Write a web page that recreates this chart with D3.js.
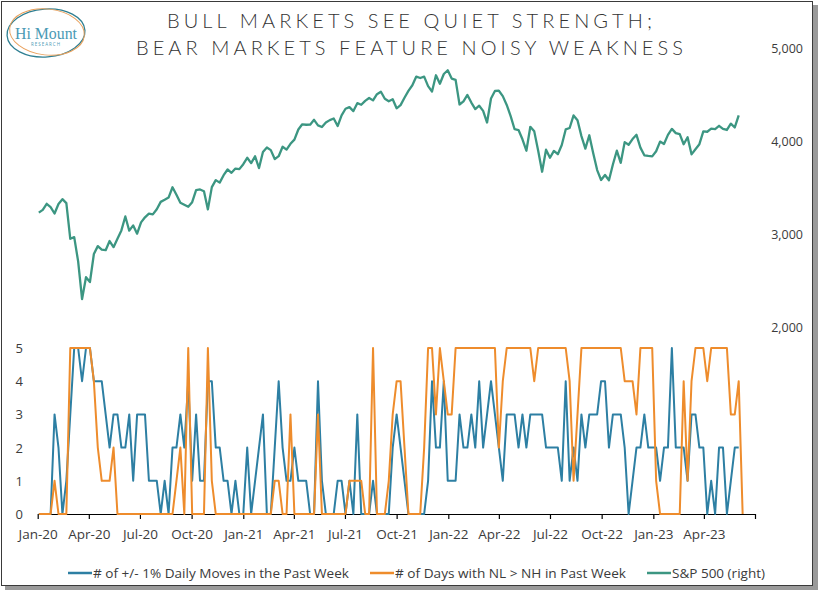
<!DOCTYPE html>
<html><head><meta charset="utf-8">
<script src="https://cdn.jsdelivr.net/npm/d3@7"></script>
<style>body{margin:0;background:#fff;} svg{display:block}</style>
</head><body><svg id="c" width="822" height="598"></svg>
<script>
// ---- DATA ----
const firstWeek = "2020-01-03"; // weekly (Friday) observations
const quarterLabels = ["Jan-20","Apr-20","Jul-20","Oct-20","Jan-21","Apr-21","Jul-21","Oct-21","Jan-22","Apr-22","Jul-22","Oct-22","Jan-23","Apr-23"];
const rightTicks = [2000, 3000, 4000, 5000];
const leftTicks = [0, 1, 2, 3, 4, 5];
const seriesNames = ["# of +/- 1% Daily Moves in the Past Week", "# of Days with NL > NH in Past Week", "S&P 500 (right)"];

const spx = [
3235,3265,3330,3295,3226,3328,3380,3338,2954,2972,
2711,2305,2541,2489,2790,2875,2837,2831,2930,2864,
2955,3044,3194,3041,3098,3009,3130,3185,3225,3216,
3271,3351,3373,3397,3508,3427,3341,3319,3298,3348,
3477,3484,3465,3270,3509,3585,3558,3638,3699,3663,
3709,3703,3756,3825,3768,3841,3714,3887,3935,3907,
3811,3842,3943,3913,3975,4020,4129,4185,4180,4181,
4233,4174,4156,4204,4230,4247,4166,4281,4352,4370,
4327,4412,4395,4437,4468,4442,4509,4535,4459,4433,
4455,4357,4391,4471,4545,4605,4698,4683,4698,4595,
4538,4712,4621,4726,4766,4677,4663,4398,4432,4501,
4419,4349,4385,4329,4204,4463,4543,4546,4488,4393,
4272,4132,4123,4024,3901,4158,4109,3901,3675,3912,
3825,3899,3863,3962,4130,4145,4280,4228,4058,3924,
4067,3873,3693,3586,3640,3583,3753,3901,3771,3993,
3965,4026,4072,3934,3852,3845,3840,3895,3999,3973,
4071,4136,4090,4079,3970,4046,3862,3917,3971,4109,
4105,4138,4134,4169,4136,4124,4192,4151,4282];

const moves = [
0,0,0,0,3,2,0,1,3,5,
5,4,5,5,4,4,4,3,2,3,
3,2,2,3,1,3,3,3,1,1,
1,0,1,0,2,2,3,2,4,1,
3,1,1,4,4,2,2,1,1,0,
1,0,0,2,0,1,2,3,0,0,
2,4,2,1,1,2,1,1,1,0,
0,4,1,0,0,0,1,1,0,1,
0,3,0,0,0,1,0,0,0,0,
2,3,2,1,0,0,0,0,0,1,
4,2,2,4,1,1,1,3,2,2,
3,2,4,2,3,4,3,2,1,3,
3,3,2,3,2,3,3,3,3,2,
2,2,2,1,4,1,2,1,3,2,
3,3,3,4,4,2,3,3,3,2,
0,1,2,2,3,2,2,2,1,2,
2,5,2,2,2,1,3,3,2,2,
0,1,0,2,2,0,1,2,2];

const nlnh = [
0,0,0,0,1,0,0,0,5,5,
5,5,5,5,4,2,1,1,1,2,
0,0,0,0,0,0,0,0,0,0,
0,0,0,0,0,1,2,0,5,0,
0,0,0,5,1,0,0,0,0,0,
0,0,0,0,0,0,0,0,0,0,
1,1,0,0,3,0,0,0,0,0,
0,3,0,0,0,0,0,0,0,1,
1,1,1,0,0,5,0,0,0,1,
3,4,4,2,0,0,0,0,2,5,
5,3,5,4,3,3,5,5,5,5,
5,5,5,5,5,5,5,2,4,5,
5,5,5,5,5,5,4,5,5,5,
5,5,5,5,5,4,1,3,5,5,
5,5,5,5,5,5,5,5,5,4,
4,4,3,5,5,5,5,1,0,0,
0,0,0,0,4,1,4,5,5,5,
4,5,5,5,5,5,3,3,4,0];

// ---- CHART ----
const svg = d3.select("#c");
const C = {blue:"#2d7fa3", orange:"#ee8c2c", green:"#3c9682", text:"#3b3b3b"};
const tickFont = "'Open Sans','Noto Sans',sans-serif";

// frame with shadow
svg.append("rect").attr("x",5).attr("y",5).attr("width",813).attr("height",585).attr("fill","#9a9a9a");
svg.append("rect").attr("x",1.5).attr("y",1.5).attr("width",811).attr("height",584)
  .attr("fill","#fff").attr("stroke","#3a3a3a").attr("stroke-width",1);

const parse = d3.timeParse("%Y-%m-%d");
const d0 = parse(firstWeek);
const dates = d3.range(nlnh.length).map(i => d3.timeDay.offset(d0, 7*i));

const x = d3.scaleTime().domain([new Date(2020,0,1), new Date(2023,6,1)]).range([37.7, 755]);
const yR = d3.scaleLinear().domain([2000, 5000]).range([327.5, 48.5]);
const yL = d3.scaleLinear().domain([0, 5]).range([514, 348]);

// right axis labels
const axR = svg.append("g").attr("transform","translate(803,0)")
  .call(d3.axisRight(yR).tickValues(rightTicks).tickSize(0).tickFormat(d3.format(",")));
axR.select(".domain").remove();
axR.selectAll("text").attr("x",0).attr("text-anchor","end").attr("dy","0.35em")
  .style("font-family",tickFont).style("font-size","12.5px").attr("fill",C.text);

// left axis labels
const axL = svg.append("g").attr("transform","translate(23,0)")
  .call(d3.axisLeft(yL).tickValues(leftTicks).tickSize(0).tickFormat(d3.format("d")));
axL.select(".domain").remove();
axL.selectAll("text").attr("x",0).attr("dy","0.35em")
  .style("font-family",tickFont).style("font-size","13px").attr("fill",C.text);

// bottom axis
const qDates = d3.timeMonth.every(3).range(new Date(2020,0,1), new Date(2023,6,2));
const axB = svg.append("g").attr("transform","translate(0,514)")
  .call(d3.axisBottom(x).tickValues(qDates).tickSize(5).tickSizeOuter(0).tickPadding(10.5)
  .tickFormat((d,i) => quarterLabels[i] || ""));
axB.select(".domain").attr("stroke","#000").attr("stroke-width",1.2);
axB.selectAll(".tick line").attr("stroke","#000").attr("stroke-width",1.2);
axB.selectAll("text").style("font-family",tickFont).style("font-size","13.5px").attr("fill",C.text);

// lines
const mk = (arr, y) => d3.line().x((d,i)=>x(dates[i])).y(d=>y(d))(arr);
svg.append("path").attr("d", mk(spx, yR)).attr("fill","none").attr("stroke",C.green).attr("stroke-width",2.3).attr("stroke-linejoin","round");
svg.append("path").attr("d", mk(moves, yL)).attr("fill","none").attr("stroke",C.blue).attr("stroke-width",2).attr("stroke-linejoin","round");
svg.append("path").attr("d", mk(nlnh, yL)).attr("fill","none").attr("stroke",C.orange).attr("stroke-width",2).attr("stroke-linejoin","round");

// title
const titleLines = ["BULL MARKETS SEE QUIET STRENGTH;", "BEAR MARKETS FEATURE NOISY WEAKNESS"];
const tl = [[167,652,27.5],[136,683,54.5]];
titleLines.forEach((t,i)=>{
  svg.append("text").attr("x",tl[i][0]).attr("y",tl[i][2]).text(t)
    .attr("textLength", tl[i][1]-tl[i][0]).attr("lengthAdjust","spacing")
    .style("font-family","Lato,'Open Sans',sans-serif").style("font-weight",300)
    .style("font-size","20px").attr("fill","#333");
});

// logo
const logo = svg.append("g");
logo.append("ellipse").attr("cx",46).attr("cy",33).attr("rx",39).attr("ry",24)
  .attr("fill","none").attr("stroke","#2f7f92").attr("stroke-width",1.3).attr("transform","rotate(-4,46,33)");
logo.append("ellipse").attr("cx",47).attr("cy",32).attr("rx",37.5).attr("ry",23)
  .attr("fill","none").attr("stroke","#e9a15d").attr("stroke-width",1).attr("transform","rotate(6,47,32)");
logo.append("text").attr("x",46).attr("y",39).attr("text-anchor","middle").text("Hi Mount")
  .attr("textLength",62).attr("lengthAdjust","spacingAndGlyphs")
  .style("font-family","'Liberation Serif',serif").style("font-size","16px").attr("fill","#4a9ab5");
logo.append("text").attr("x",46).attr("y",46).attr("text-anchor","middle").text("RESEARCH")
  .style("font-family","'Open Sans',sans-serif").style("font-size","4.5px").style("letter-spacing","1px").attr("fill","#4a9ab5");

// legend
const leg = [[68,93,256,C.blue],[370,395,231,C.orange],[647,672,93,C.green]];
seriesNames.forEach((n,i)=>{
  svg.append("line").attr("x1",leg[i][0]).attr("x2",leg[i][1]-1).attr("y1",573).attr("y2",573)
    .attr("stroke",leg[i][3]).attr("stroke-width",2.5);
  svg.append("text").attr("x",leg[i][1]).attr("y",573).attr("dy","0.35em").text(n)
    .attr("textLength",leg[i][2]).attr("lengthAdjust","spacingAndGlyphs")
    .style("font-family",tickFont).style("font-size","13.3px").attr("fill",C.text);
});
</script></body></html>
